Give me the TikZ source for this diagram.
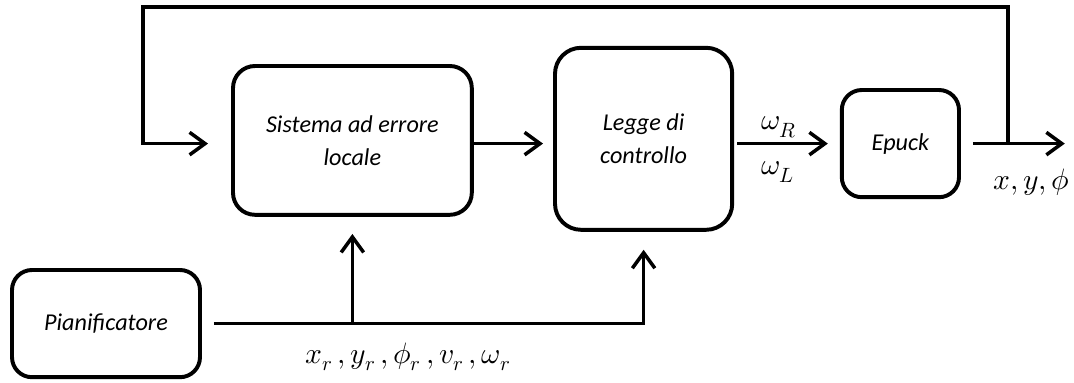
\documentclass[tikz,border=0pt]{standalone}
\usepackage{fontspec}
\usepackage{unicode-math}
\setmainfont{Carlito}
\setmathfont{Latin Modern Math}
\usetikzlibrary{arrows.meta, positioning}

\tikzset{
  blk/.style={draw, line width=2.8pt, rounded corners=0.55cm, align=center,
    font=\fontsize{17.2}{23.4}\selectfont\itshape},
  arr/.style={line width=2.5pt, -{Straight Barb[length=11pt, width=16pt]}},
  lbl/.style={font=\fontsize{21}{24}\selectfont}
}

\begin{document}
\begin{tikzpicture}
    \useasboundingbox (0,0) rectangle (26.85,9.55);
    % blocchi
    \node[blk, minimum width=5.97cm, minimum height=3.72cm] (sis) at (8.81,6.04)
      {Sistema ad errore\\locale};
    \node[blk, minimum width=4.43cm, minimum height=4.55cm, rounded corners=0.65cm]
      (leg) at (16.09,6.08) {Legge di\\controllo};
    \node[blk, minimum width=2.93cm, minimum height=2.68cm, rounded corners=0.5cm]
      (epk) at (22.51,5.96) {Epuck};
    \node[blk, minimum width=4.7cm, minimum height=2.68cm, rounded corners=0.5cm]
      (pia) at (2.65,1.46) {Pianificatore};
    \coordinate (tap) at (25.2,5.96);
    \coordinate (out) at (26.62,5.96);
    \coordinate (fbtop) at (3.575,9.38);
    % collegamenti
    \draw[arr, shorten >=0.25cm] (sis.east |- epk.west) -- (leg.west |- epk.west);
    \draw[arr, shorten <=0.08cm, shorten >=0.3cm] (leg.east |- epk.west) -- (epk.west);
    \draw[arr, shorten <=0.3cm] (epk.east) -- (out);
    \draw[arr, shorten >=0.575cm] (tap) |- (fbtop) |- (sis.west |- epk.west);
    \draw[arr, shorten <=0.3cm, shorten >=0.45cm] (pia.east) -| (leg.south);
    \draw[arr, shorten >=0.43cm] (sis.south |- pia.east) -- (sis.south);
    % etichette
    \node[lbl] (wr) at (19.47,6.37) {$\omega_R$};
    \node[lbl] (wl) at (19.45,5.25) {$\omega_L$};
    \node[lbl] (xyp) at (25.78,5.0) {$x, y, \phi$};
    \node[lbl] (ref) at (10.2,0.62) {$x_r\,, y_r\,, \phi_r\,, v_r\,, \omega_r$};
\end{tikzpicture}
\end{document}
